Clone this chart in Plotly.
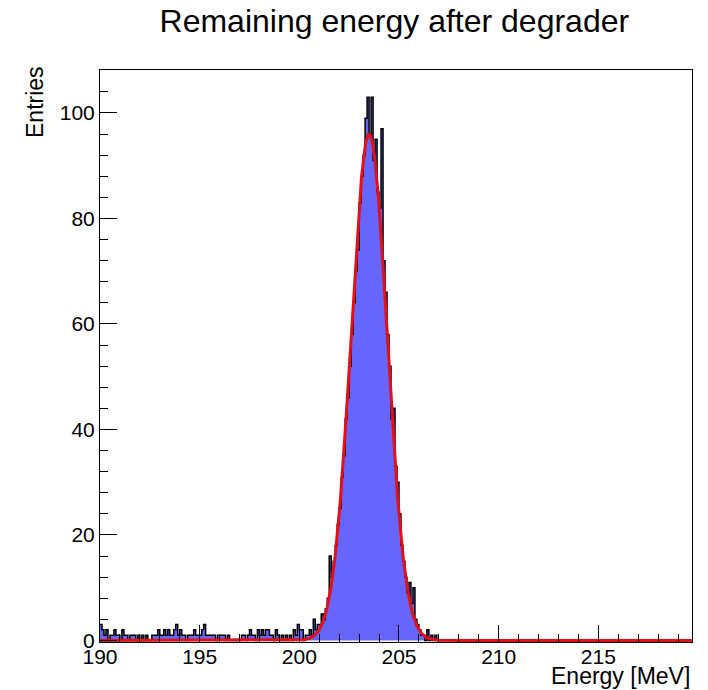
import plotly.graph_objects as go
import numpy as np

# ---------------- data ----------------
bin_start = 190.0
bin_width = 0.1
x_max = 219.7

# counts per 0.1 MeV bin, starting at 190.0 MeV
counts_190_200 = [
    3, 2, 1, 2, 0, 1, 1, 2, 1, 1,
    0, 2, 1, 1, 0, 1, 1, 1, 0, 1,
    0, 1, 0, 1, 0, 0, 1, 1, 1, 2,
    1, 1, 2, 1, 2, 1, 1, 2, 3, 1,
    2, 1, 1, 0, 1, 1, 1, 2, 1, 1,
    1, 2, 3, 1, 1, 1, 1, 1, 0, 1,
    1, 1, 1, 0, 1, 0, 0, 0, 0, 0,
    0, 1, 1, 0, 1, 2, 1, 1, 0, 2,
    1, 2, 1, 2, 2, 1, 1, 0, 2, 1,
    0, 1, 0, 1, 0, 1, 0, 2, 1, 3,
]
counts_200_207 = [
    2, 2, 0, 1, 1, 2, 1, 4, 2, 3,
    3, 5, 4, 6, 8, 16, 12, 15, 18, 22,
    25, 31, 35, 42, 46, 52, 58, 64, 70, 74,
    83, 88, 92, 99, 103, 96, 103, 91, 95, 85,
    82, 97, 72, 66, 58, 52, 42, 44, 33, 30,
    24, 18, 15, 12, 9, 11, 7, 10, 4, 3,
    2, 1, 1, 0, 2, 0, 1, 0, 1, 0,
]
n_total = int(round((x_max - bin_start) / bin_width))
counts_tail = [0] * (n_total - len(counts_190_200) - len(counts_200_207))
counts = counts_190_200 + counts_200_207 + counts_tail

# Gaussian fit parameters
fit_constant = 96.0
fit_mean = 203.5
fit_sigma = 0.9

title_text = "Remaining energy after degrader"
x_title = "Energy [MeV]"
y_title = "Entries"

# ---------------- figure ----------------
edges = bin_start + bin_width * np.arange(len(counts) + 1)
step_x = list(edges)
step_y = counts + [counts[-1]]

fx = np.linspace(bin_start, x_max, 1500)
fy = fit_constant * np.exp(-0.5 * ((fx - fit_mean) / fit_sigma) ** 2)

font_family = "Liberation Sans, Arial, Helvetica, sans-serif"

fig = go.Figure()
fig.add_trace(go.Scatter(
    x=step_x, y=step_y, mode="lines", line=dict(shape="hv", color="black", width=1.5),
    fill="tozeroy", fillcolor="rgb(102,102,255)", hoverinfo="skip", showlegend=False,
))
fig.add_trace(go.Scatter(
    x=fx, y=fy, mode="lines", line=dict(color="rgb(228,16,24)", width=3),
    hoverinfo="skip", showlegend=False,
))

fig.update_layout(
    width=708, height=690,
    margin=dict(l=100, r=16, t=70, b=48),
    paper_bgcolor="white", plot_bgcolor="white",
    font=dict(family=font_family, color="black", size=21),
    title=dict(text=title_text, x=0.557, xanchor="center", y=0.97, yanchor="middle",
               font=dict(size=32, family=font_family, color="black")),
    showlegend=False,
)
fig.update_xaxes(
    range=[bin_start, x_max], showgrid=False, zeroline=False,
    showline=True, linecolor="black", linewidth=1, mirror=True,
    ticks="inside", ticklen=17, tickcolor="black", tick0=190, dtick=5,
    minor=dict(ticks="inside", ticklen=8, dtick=1, tickcolor="black", showgrid=False),
    tickfont=dict(size=21), ticklabelstandoff=-4,
)
fig.update_yaxes(
    range=[-0.3, 108.15], showgrid=False, zeroline=False,
    showline=True, linecolor="black", linewidth=1, mirror=True,
    ticks="inside", ticklen=17, tickcolor="black", tick0=0, dtick=20,
    minor=dict(ticks="inside", ticklen=8, dtick=4, tickcolor="black", showgrid=False),
    tickfont=dict(size=21),
)
fig.add_annotation(text=x_title, xref="paper", yref="paper", x=1, y=0,
                   xanchor="right", yanchor="top", yshift=-19, showarrow=False,
                   font=dict(size=23, family=font_family, color="black"))
fig.add_annotation(text=y_title, xref="paper", yref="paper", x=0, y=1,
                   xanchor="center", yanchor="top", xshift=-65, yshift=6, textangle=-90,
                   showarrow=False, font=dict(size=23, family=font_family, color="black"))

fig.write_html("out.html")
